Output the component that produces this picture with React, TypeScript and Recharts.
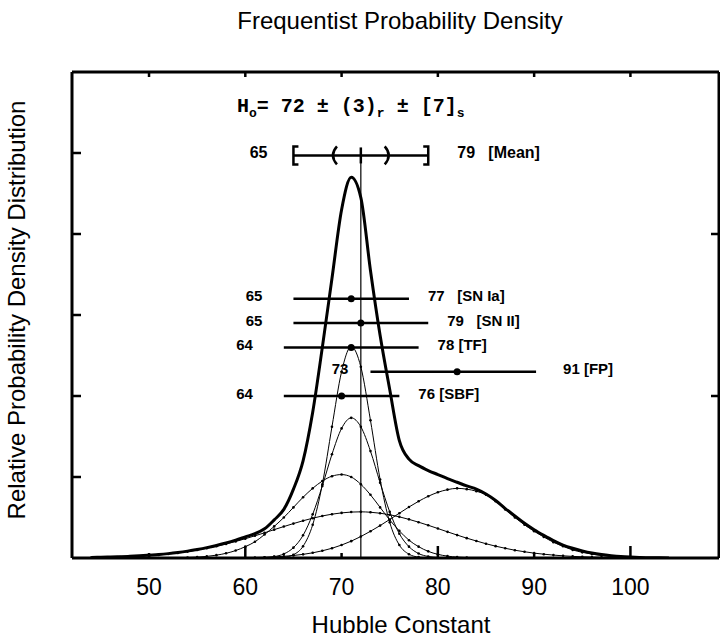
import React from 'react';
import {
  ComposedChart,
  Line,
  Scatter,
  XAxis,
  YAxis,
  ReferenceLine,
  ReferenceDot,
} from 'recharts';

// Hubble constant grid (km/s/Mpc)
const H0_GRID = [
  44, 45, 46, 47, 48, 49, 50, 51, 52, 53,
  54, 55, 56, 57, 58, 59, 60, 61, 62, 63,
  64, 65, 66, 67, 68, 69, 70, 71, 72, 73,
  74, 75, 76, 77, 78, 79, 80, 81, 82, 83,
  84, 85, 86, 87, 88, 89, 90, 91, 92, 93,
  94, 95, 96, 97, 98, 99, 100, 101, 102, 103,
  104,
];

// combined density (thick curve)
const TOTAL_PDF = [
  0.007, 0.009, 0.012, 0.016, 0.021, 0.027, 0.035, 0.043, 0.054, 0.068,
  0.085, 0.105, 0.128, 0.155, 0.185, 0.22, 0.26, 0.3, 0.36, 0.47,
  0.6, 0.85, 1.2, 1.8, 2.6, 3.45, 4.3, 4.7, 4.45, 3.55,
  2.75, 2.08, 1.45, 1.22, 1.14, 1.08, 1.03, 0.98, 0.935, 0.89,
  0.85, 0.79, 0.71, 0.61, 0.52, 0.43, 0.35, 0.28, 0.215, 0.16,
  0.12, 0.088, 0.062, 0.043, 0.029, 0.018, 0.011, 0.006, 0.003, 0.002,
  0.001,
];

// single-method densities (thin dotted curves)
const SN_IA_PDF = [
  0, 0, 0, 0, 0, 0, 0, 0, 0, 0,
  0, 0, 0, 0, 0, 0, 0, 0, 0, 0.002,
  0.009, 0.041, 0.145, 0.41, 0.91, 1.62, 2.3, 2.61, 2.36, 1.7,
  0.97, 0.44, 0.16, 0.047, 0.011, 0.002, 0, 0, 0, 0,
  0, 0, 0, 0, 0, 0, 0, 0, 0, 0,
  0, 0, 0, 0, 0, 0, 0, 0, 0, 0,
  0,
];

const TF_PDF = [
  0, 0, 0, 0, 0, 0, 0, 0, 0, 0,
  0, 0, 0, 0, 0, 0, 0, 0, 0.005, 0.017,
  0.05, 0.128, 0.28, 0.54, 0.89, 1.28, 1.6, 1.73, 1.62, 1.32,
  0.93, 0.57, 0.3, 0.14, 0.055, 0.019, 0.006, 0.002, 0, 0,
  0, 0, 0, 0, 0, 0, 0, 0, 0, 0,
  0, 0, 0, 0, 0, 0, 0, 0, 0, 0,
  0,
];

const SBF_PDF = [
  0, 0, 0, 0, 0, 0, 0, 0, 0.002, 0.003,
  0.006, 0.011, 0.02, 0.035, 0.058, 0.092, 0.14, 0.2, 0.29, 0.39,
  0.5, 0.625, 0.75, 0.86, 0.95, 1.01, 1.03, 1.0, 0.91, 0.78,
  0.625, 0.47, 0.335, 0.22, 0.14, 0.082, 0.045, 0.023, 0.011, 0.005,
  0.002, 0, 0, 0, 0, 0, 0, 0, 0, 0,
  0, 0, 0, 0, 0, 0, 0, 0, 0, 0,
  0,
];

const SN_II_PDF = [
  0.005, 0.007, 0.009, 0.012, 0.017, 0.022, 0.029, 0.038, 0.049, 0.063,
  0.079, 0.098, 0.12, 0.145, 0.173, 0.204, 0.238, 0.274, 0.311, 0.35,
  0.388, 0.425, 0.46, 0.491, 0.519, 0.541, 0.557, 0.567, 0.57, 0.565,
  0.553, 0.534, 0.508, 0.477, 0.442, 0.404, 0.364, 0.323, 0.283, 0.245,
  0.21, 0.176, 0.146, 0.12, 0.096, 0.077, 0.06, 0.047, 0.036, 0.027,
  0.02, 0.015, 0.011, 0.008, 0.005, 0.004, 0.003, 0.002, 0.001, 0.001,
  0,
];

const FP_PDF = [
  0, 0, 0, 0, 0, 0, 0, 0, 0, 0,
  0, 0, 0, 0, 0, 0, 0.003, 0.006, 0.009, 0.014,
  0.021, 0.031, 0.045, 0.064, 0.089, 0.12, 0.16, 0.208, 0.265, 0.33,
  0.4, 0.476, 0.553, 0.63, 0.7, 0.762, 0.811, 0.844, 0.86, 0.85,
  0.825, 0.78, 0.7, 0.6, 0.5, 0.41, 0.33, 0.26, 0.195, 0.145,
  0.1, 0.07, 0.048, 0.032, 0.02, 0.012, 0.007, 0.004, 0.002, 0.001,
  0,
];

const X_TICKS = [50, 60, 70, 80, 90, 100];
const Y_TICKS = [1, 2, 3, 4, 5];
const RIGHT_TICKS = [2, 4];

// per-method ranges drawn as horizontal bars
const METHODS = ['SN Ia', 'SN II', 'TF', 'FP', 'SBF'];
const METHOD_LEVEL = [3.2, 2.9, 2.6, 2.3, 2.0];
const METHOD_CENTRE = [71, 72, 71, 82, 70];
const METHOD_LOW = [65, 65, 64, 73, 64];
const METHOD_HIGH = [77, 79, 78, 90.2, 76];
const LOW_LABELS = ['65', '65', '64', '73', '64'];
const HIGH_LABELS = ['77   [SN Ia]', '79   [SN II]', '78 [TF]', '91 [FP]', '76 [SBF]'];

// mean result: 72 +- (3) random +- [7] systematic
const MEAN_LEVEL = 4.97;
const MEAN_VALUE = 72;
const MEAN_RANDOM = [69, 75];
const MEAN_SYSTEMATIC = [65, 79];
const MEAN_LABELS = ['65', '79   [Mean]'];

const SANS = '"Liberation Sans", Arial, Helvetica, sans-serif';
const INK = '#000';

const rows = H0_GRID.map((h, i) => ({
  h,
  total: TOTAL_PDF[i],
  snIa: SN_IA_PDF[i],
  tf: TF_PDF[i],
  sbf: SBF_PDF[i],
  snII: SN_II_PDF[i],
  fp: FP_PDF[i],
}));

const methodDots = METHODS.map((m, i) => ({ h: METHOD_CENTRE[i], lvl: METHOD_LEVEL[i], m }));

// label gaps in px (FP sits a bit differently in the original)
const gapFor = (m: string) => (m === 'FP' ? [22, 27] : m === 'Mean' ? [26, 29] : [31, 19]);

function BottomTick({ x, y, payload }: any) {
  const len = payload.value % 20 === 0 ? 12 : 5;
  return (
    <g>
      <line x1={x} x2={x} y1={y} y2={y - len} stroke={INK} strokeWidth={2.5} />
      <text x={x} y={y + 37} textAnchor="middle" fontSize={23} fontFamily={SANS} fill={INK}>
        {payload.value}
      </text>
    </g>
  );
}

function TopTick({ x, y }: any) {
  return <line x1={x} x2={x} y1={y} y2={y + 5} stroke={INK} strokeWidth={2.5} />;
}

function LeftTick({ x, y }: any) {
  return <line x1={x} x2={x + 9} y1={y} y2={y} stroke={INK} strokeWidth={2.5} />;
}

function RightTick({ x, y }: any) {
  return <line x1={x} x2={x - 8} y1={y} y2={y} stroke={INK} strokeWidth={2.5} />;
}

const curveDot = (props: any) => {
  const { cx, cy, value, index } = props;
  if (value == null || value < 0.004) return <g key={index} />;
  return <circle key={index} cx={cx} cy={cy} r={1.3} fill={INK} />;
};

const labelShape = (text: string, side: 'left' | 'right', gap: number, size = 15) => (p: any) => (
  <text
    x={side === 'left' ? p.cx - gap : p.cx + gap}
    y={p.cy + 2.5}
    textAnchor={side === 'left' ? 'end' : 'start'}
    fontSize={size}
    fontWeight="bold"
    fontFamily={SANS}
    fill={INK}
    style={{ whiteSpace: 'pre' }}
  >
    {text}
  </text>
);

const glyphShape = (kind: string) => (p: any) => {
  const { cx, cy } = p;
  let d = '';
  if (kind === '[') d = `M${cx + 5},${cy - 9} H${cx} V${cy + 9} H${cx + 5}`;
  if (kind === ']') d = `M${cx - 5},${cy - 9} H${cx} V${cy + 9} H${cx - 5}`;
  if (kind === '(') d = `M${cx + 5},${cy - 9} Q${cx - 3},${cy} ${cx + 5},${cy + 9}`;
  if (kind === ')') d = `M${cx - 5},${cy - 9} Q${cx + 3},${cy} ${cx - 5},${cy + 9}`;
  if (kind === '|') d = `M${cx},${cy - 8} V${cy + 8}`;
  return <path d={d} fill="none" stroke={INK} strokeWidth={2.5} />;
};

const thin = {
  type: 'monotone' as const,
  stroke: INK,
  strokeWidth: 1,
  dot: curveDot,
  activeDot: false,
  isAnimationActive: false,
};

export default function App() {
  return (
    <div style={{ position: 'absolute', left: 0, top: 0, width: 720, height: 639, background: '#fff', overflow: 'hidden' }}>
      <ComposedChart width={720} height={639} data={rows} margin={{ top: 71, right: 0, bottom: 50, left: 0 }}>
        <XAxis
          dataKey="h"
          type="number"
          domain={[42, 109.2]}
          ticks={X_TICKS}
          interval={0}
          allowDataOverflow
          height={31}
          tickSize={0}
          tickMargin={0}
          tickLine={false}
          axisLine={{ stroke: INK, strokeWidth: 3 }}
          tick={(p: any) => <BottomTick {...p} />}
        />
        <XAxis
          xAxisId="top"
          orientation="top"
          dataKey="h"
          type="number"
          domain={[42, 109.2]}
          ticks={X_TICKS}
          interval={0}
          allowDataOverflow
          height={1}
          tickSize={0}
          tickMargin={0}
          tickLine={false}
          axisLine={{ stroke: INK, strokeWidth: 3 }}
          tick={(p: any) => <TopTick {...p} />}
        />
        <YAxis
          type="number"
          domain={[0, 6]}
          ticks={Y_TICKS}
          interval={0}
          allowDataOverflow
          width={72}
          tickSize={0}
          tickMargin={0}
          tickLine={false}
          axisLine={{ stroke: INK, strokeWidth: 3 }}
          tick={(p: any) => <LeftTick {...p} />}
        />
        <YAxis
          yAxisId="right"
          orientation="right"
          type="number"
          domain={[0, 6]}
          ticks={RIGHT_TICKS}
          interval={0}
          allowDataOverflow
          width={1}
          tickSize={0}
          tickMargin={0}
          tickLine={false}
          axisLine={{ stroke: INK, strokeWidth: 3 }}
          tick={(p: any) => <RightTick {...p} />}
        />

        <Line dataKey="snIa" {...thin} />
        <Line dataKey="tf" {...thin} />
        <Line dataKey="sbf" {...thin} />
        <Line dataKey="snII" {...thin} />
        <Line dataKey="fp" {...thin} />
        <Line
          dataKey="total"
          type="monotone"
          stroke={INK}
          strokeWidth={3}
          dot={false}
          activeDot={false}
          isAnimationActive={false}
        />

        {/* adopted value */}
        <ReferenceLine
          segment={[{ x: MEAN_VALUE, y: 0 }, { x: MEAN_VALUE, y: MEAN_LEVEL }]}
          stroke={INK}
          strokeWidth={1.2}
        />

        {/* per-method ranges */}
        {METHODS.map((m, i) => (
          <ReferenceLine
            key={`bar-${m}`}
            segment={[{ x: METHOD_LOW[i], y: METHOD_LEVEL[i] }, { x: METHOD_HIGH[i], y: METHOD_LEVEL[i] }]}
            stroke={INK}
            strokeWidth={2.5}
          />
        ))}
        {METHODS.map((m, i) => (
          <ReferenceDot
            key={`lo-${m}`}
            x={METHOD_LOW[i]}
            y={METHOD_LEVEL[i]}
            r={1}
            shape={labelShape(LOW_LABELS[i], 'left', gapFor(m)[0])}
          />
        ))}
        {METHODS.map((m, i) => (
          <ReferenceDot
            key={`hi-${m}`}
            x={METHOD_HIGH[i]}
            y={METHOD_LEVEL[i]}
            r={1}
            shape={labelShape(HIGH_LABELS[i], 'right', gapFor(m)[1])}
          />
        ))}
        <Scatter data={methodDots} dataKey="lvl" fill={INK} isAnimationActive={false}
          shape={(p: any) => <circle cx={p.cx} cy={p.cy} r={3.5} fill={INK} />} />

        {/* mean bar */}
        <ReferenceLine
          segment={[{ x: MEAN_SYSTEMATIC[0], y: MEAN_LEVEL }, { x: MEAN_SYSTEMATIC[1], y: MEAN_LEVEL }]}
          stroke={INK}
          strokeWidth={2.5}
        />
        <ReferenceDot x={MEAN_SYSTEMATIC[0]} y={MEAN_LEVEL} r={1} shape={glyphShape('[')} />
        <ReferenceDot x={MEAN_SYSTEMATIC[1]} y={MEAN_LEVEL} r={1} shape={glyphShape(']')} />
        <ReferenceDot x={MEAN_RANDOM[0]} y={MEAN_LEVEL} r={1} shape={glyphShape('(')} />
        <ReferenceDot x={MEAN_RANDOM[1]} y={MEAN_LEVEL} r={1} shape={glyphShape(')')} />
        <ReferenceDot x={MEAN_VALUE} y={MEAN_LEVEL} r={1} shape={glyphShape('|')} />
        <ReferenceDot x={MEAN_SYSTEMATIC[0]} y={MEAN_LEVEL} r={1}
          shape={labelShape(MEAN_LABELS[0], 'left', gapFor('Mean')[0], 16)} />
        <ReferenceDot x={MEAN_SYSTEMATIC[1]} y={MEAN_LEVEL} r={1}
          shape={labelShape(MEAN_LABELS[1], 'right', gapFor('Mean')[1], 16)} />
      </ComposedChart>

      <svg width={720} height={639} style={{ position: 'absolute', left: 0, top: 0, pointerEvents: 'none' }}>
        <text x={400} y={29} textAnchor="middle" fontSize={24} fontFamily={SANS} fill={INK}>
          Frequentist Probability Density
        </text>
        <text x={401} y={633} textAnchor="middle" fontSize={24} fontFamily={SANS} fill={INK}>
          Hubble Constant
        </text>
        <text
          x={25}
          y={310}
          textAnchor="middle"
          fontSize={24}
          fontFamily={SANS}
          fill={INK}
          transform="rotate(-90, 25, 310)"
        >
          Relative Probability Density Distribution
        </text>
        <text
          x={237}
          y={112}
          fontSize={20}
          fontWeight="bold"
          fontFamily='"Liberation Mono", "DejaVu Sans Mono", monospace'
          fill={INK}
          style={{ whiteSpace: 'pre' }}
        >
          H<tspan dy={5} fontSize={13}>o</tspan>
          <tspan dy={-5}>= 72 ± (3)</tspan>
          <tspan dy={5} fontSize={13}>r</tspan>
          <tspan dy={-5}> ± [7]</tspan>
          <tspan dy={5} fontSize={13}>s</tspan>
        </text>
      </svg>
    </div>
  );
}
